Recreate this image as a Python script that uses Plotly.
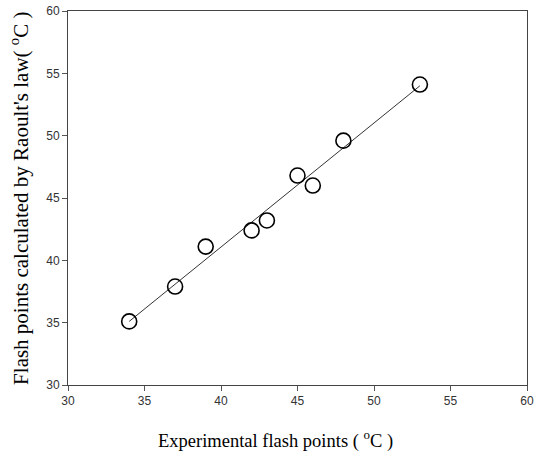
import plotly.graph_objects as go

exp_flash = [34, 37, 39, 42, 43, 45, 46, 48, 53]
raoult_flash = [35.1, 37.9, 41.1, 42.4, 43.2, 46.8, 46.0, 49.6, 54.1]
fit_x = [34, 53]
fit_y = [35.1, 54.0]
x_ticks = [30, 35, 40, 45, 50, 55, 60]
y_ticks = [30, 35, 40, 45, 50, 55, 60]
x_title = "Experimental flash points ( <sup>o</sup>C )"
y_title = "Flash points calculated by Raoult's law( <sup>o</sup>C )"

fig = go.Figure()
fig.add_trace(go.Scatter(x=fit_x, y=fit_y, mode="lines",
                         line=dict(color="#333333", width=1), showlegend=False))
fig.add_trace(go.Scatter(x=exp_flash, y=raoult_flash, mode="markers",
                         marker=dict(symbol="circle-open", size=15, color="black",
                                     line=dict(width=1.6, color="black")),
                         showlegend=False))

axis_common = dict(showgrid=False, zeroline=False, showline=True, linecolor="#444444",
                   linewidth=1, mirror=True, ticks="outside", ticklen=5, tickwidth=1,
                   tickcolor="#555555", automargin=False,
                   tickfont=dict(family="Liberation Sans, Arial", size=12, color="#333333"))

fig.update_layout(
    width=540, height=455,
    margin=dict(l=68, r=13, t=11, b=70),
    paper_bgcolor="white", plot_bgcolor="white",
    xaxis=dict(range=[30, 60], tickvals=x_ticks, **axis_common),
    yaxis=dict(range=[30, 60], tickvals=y_ticks, **axis_common),
    annotations=[
        dict(text=x_title, xref="paper", yref="paper", x=0.453, y=-0.147,
             xanchor="center", yanchor="middle", showarrow=False,
             font=dict(family="Liberation Serif, Times New Roman", size=18.5, color="black")),
        dict(text=y_title, xref="paper", yref="paper", x=-0.107, y=0.5,
             xanchor="center", yanchor="middle", showarrow=False, textangle=-90,
             font=dict(family="Liberation Serif, Times New Roman", size=21, color="black")),
    ],
)

fig.write_html("out.html", config={"displayModeBar": False},
               post_script="document.body.style.margin='0';")
